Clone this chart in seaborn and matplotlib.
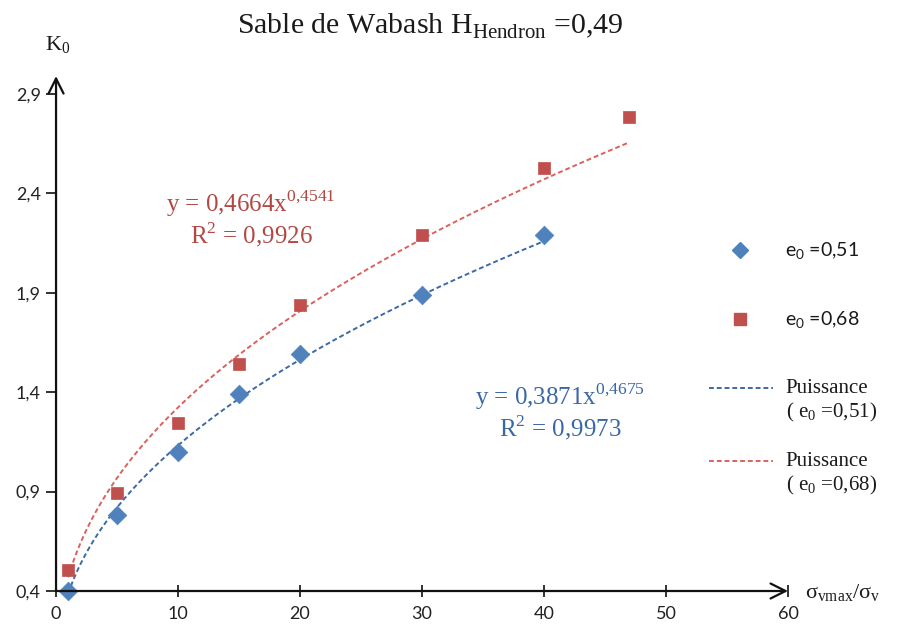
import matplotlib
matplotlib.use("Agg")
import matplotlib.pyplot as plt
import numpy as np
import pandas as pd
import seaborn as sns
from matplotlib.lines import Line2D
from matplotlib.legend_handler import HandlerLine2D
from matplotlib.ticker import FuncFormatter

# values
x_051 = [1, 5, 10, 15, 20, 30, 40]
k0_051 = [0.40, 0.78, 1.10, 1.39, 1.59, 1.89, 2.19]
x_068 = [1, 5, 10, 15, 20, 30, 40, 47]
k0_068 = [0.505, 0.895, 1.245, 1.54, 1.84, 2.19, 2.53, 2.785]
y_ticks = [0.4, 0.9, 1.4, 1.9, 2.4, 2.9]
x_ticks = [0, 10, 20, 30, 40, 50, 60]
eq_051 = "y = 0,3871x$^{\\mathrm{0{,}4675}}$\nR$^{\\mathrm{2}}$ = 0,9973"
eq_068 = "y = 0,4664x$^{\\mathrm{0{,}4541}}$\nR$^{\\mathrm{2}}$ = 0,9926"

blue = "#4F81BD"
red = "#C0504D"
blue_fit = "#3D69A6"
red_fit = "#DB615C"
dash = (0, (2.5, 1.5))

sns.set_theme(style="white")
plt.rcParams["font.family"] = ["Lato", "DejaVu Sans"]
plt.rcParams["mathtext.fontset"] = "custom"
plt.rcParams["mathtext.rm"] = "Liberation Serif"
plt.rcParams["mathtext.sf"] = "Lato"
serif = "Liberation Serif"


def power_fit(x, y):
    # same as an Excel "Puissance" trendline: linear fit in log-log space
    b, ln_a = np.polyfit(np.log(x), np.log(y), 1)
    xs = np.linspace(min(x), max(x), 200)
    return pd.DataFrame({"x": xs, "y": np.exp(ln_a) * xs ** b})


class FirstLineHandler(HandlerLine2D):
    # put the dashed sample next to the first line of a two-line label
    def create_artists(self, legend, orig_handle, xdescent, ydescent, width,
                       height, fontsize, trans):
        arts = super().create_artists(legend, orig_handle, xdescent, ydescent,
                                      width, height, fontsize, trans)
        for a in arts:
            a.set_ydata(np.asarray(a.get_ydata()) + 0.62 * fontsize)
        return arts


fig = plt.figure(figsize=(9.01, 6.28), dpi=100)
ax = fig.add_axes([0.0622, 0.0589, 0.8124, 0.820])

fit_051 = power_fit(x_051, k0_051)
fit_068 = power_fit(x_068, k0_068)
sns.lineplot(data=fit_068, x="x", y="y", ax=ax, color=red_fit, lw=1.4,
             linestyle=dash, zorder=2)
sns.lineplot(data=fit_051, x="x", y="y", ax=ax, color=blue_fit, lw=1.4,
             linestyle=dash, zorder=2)

sns.scatterplot(x=x_068, y=k0_068, ax=ax, marker="s", s=70, color=red,
                edgecolor=red, linewidth=0.5, zorder=3, clip_on=False)
sns.scatterplot(x=x_051, y=k0_051, ax=ax, marker="D", s=90, color=blue,
                edgecolor=blue, linewidth=0.5, zorder=3, clip_on=False)

ax.set_xlim(0, 60)
ax.set_ylim(0.4, 2.99)
ax.set_xticks(x_ticks)
ax.set_yticks(y_ticks)
ax.yaxis.set_major_formatter(FuncFormatter(lambda v, p: f"{v:.1f}".replace(".", ",")))
ax.tick_params(axis="x", direction="inout", length=9, width=1.3, colors="#222222",
               labelsize=13, pad=6, bottom=True)
ax.tick_params(axis="y", direction="out", length=7, width=1.3, colors="#222222",
               labelsize=13, pad=4, left=True)
ax.set_xlabel("")
ax.set_ylabel("")
for s in ax.spines.values():
    s.set_visible(False)

# axes drawn as arrows
arrow = dict(arrowstyle="->,head_length=0.9,head_width=0.45", lw=1.6, color="#111111",
             shrinkA=0, shrinkB=0)
ax.annotate("", xy=(60, 0.4), xytext=(0, 0.4), arrowprops=arrow, annotation_clip=False)
ax.annotate("", xy=(0, 2.99), xytext=(0, 0.4), arrowprops=arrow, annotation_clip=False)

fig.text(0.477, 0.958, "Sable de Wabash H$_{\\mathrm{Hendron}}$ =0,49", family=serif,
         fontsize=21.5, ha="center", va="center", color="#1a1a1a")
fig.text(0.064, 0.928, "K$_{\\mathrm{0}}$", family=serif, fontsize=16,
         ha="center", va="center", color="#1a1a1a")
fig.text(0.893, 0.056, "σ$_{\\mathrm{vmax}}$/σ$_{\\mathrm{v}}$", family=serif,
         fontsize=16, ha="left", va="center", color="#1a1a1a")

ax.text(16.0, 2.275, eq_068, family=serif, fontsize=18, ha="center", va="center",
        multialignment="center", color="#B24844", linespacing=1.05)
ax.text(41.3, 1.30, eq_051, family=serif, fontsize=18, ha="center", va="center",
        multialignment="center", color="#3A68A6", linespacing=1.05)

# legend: point series
pt_handles = [
    Line2D([], [], marker="D", color=blue, linestyle="none", markersize=8),
    Line2D([], [], marker="s", color=red, linestyle="none", markersize=8),
]
pt_labels = ["e$_{\\mathsf{0}}$ =0,51", "e$_{\\mathsf{0}}$ =0,68"]
leg1 = fig.legend(pt_handles, pt_labels, loc="upper left", bbox_to_anchor=(0.766, 0.645),
                  frameon=False, fontsize=14, labelspacing=2.45, handlelength=3.3,
                  handletextpad=0.67, labelcolor="#1a1a1a")

# legend: trendlines
ln_handles = [
    Line2D([], [], color=blue_fit, lw=1.4, linestyle=dash),
    Line2D([], [], color=red_fit, lw=1.4, linestyle=dash),
]
ln_labels = ["Puissance\n( e$_{\\mathrm{0}}$ =0,51)", "Puissance\n( e$_{\\mathrm{0}}$ =0,68)"]
leg2 = fig.legend(ln_handles, ln_labels, loc="upper left", bbox_to_anchor=(0.766, 0.427),
                  frameon=False, prop={"family": serif, "size": 15}, labelspacing=1.33,
                  handlelength=3.1, handletextpad=0.58, labelcolor="#1a1a1a",
                  handler_map={Line2D: FirstLineHandler()})

fig.savefig("out.png", dpi=100)
